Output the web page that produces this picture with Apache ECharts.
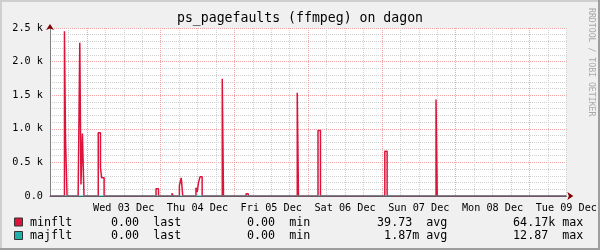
<!DOCTYPE html>
<html>
<head>
<meta charset="utf-8">
<style>html,body{margin:0;padding:0;background:#f0f0f0;}#c{width:600px;height:250px;}</style>
<script src="https://cdn.jsdelivr.net/npm/echarts@6/dist/echarts.min.js"></script>
</head>
<body>
<div id="c"></div>
<script>
// ---- data (hours relative to Wed 03 Dec 00:00; value holds until next point) ----
const minfltHours = [-12, -7.3, -6.95, -6.45, -2.83, -2.31, -1.92, -1.45, -0.94, 3.7, 4.42, 4.81, 5.6, 22.5, 23.3, 27.7, 28.1, 30.1, 30.7, 31.2, 35.5, 35.9, 36.3, 36.8, 37.5, 44.05, 44.45, 51.8, 52.5, 68.45, 68.85, 75.2, 76.0, 96.94, 97.69, 113.6, 114.0, 124.3, 124.7, 156];
const minfltValues = [0, 2450, 840, 0, 71, 2280, 171, 930, 0, 940, 420, 270, 0, 107, 0, 42, 0, 156, 270, 0, 122, 62, 196, 285, 0, 1744, 0, 33, 0, 1536, 0, 975, 0, 667, 0, 1436, 0, 18, 0, 0];
const majfltHours = [-12, 124.3, 124.35, 156];
const majfltValues = [0, 12.87, 0, 0];
const dayLabels = ['Wed 03 Dec', 'Thu 04 Dec', 'Fri 05 Dec', 'Sat 06 Dec', 'Sun 07 Dec', 'Mon 08 Dec', 'Tue 09 Dec'];
const yTickLabels = ['0.0', '0.5 k', '1.0 k', '1.5 k', '2.0 k', '2.5 k'];
const seriesNames = ['minflt', 'majflt'];
const seriesColors = ['#DC143C', '#20B2AA'];
const lastVals = ['0.00', '0.00'];
const minVals = ['0.00', '0.00'];
const avgVals = ['39.73', '1.87m'];
const maxVals = ['64.17k', '12.87'];

const FONT = "'DejaVu Sans Mono', monospace";
const pairs = (xs, ys) => xs.map((x, i) => [x, ys[i]]);
const sfx = s => /[0-9]$/.test(s) ? s + ' ' : s;

const chart = echarts.init(document.getElementById('c'), null, {renderer: 'canvas'});

const graphics = [
  {type: 'rect', shape: {x: 0, y: 0, width: 600, height: 250}, style: {fill: '#f0f0f0'}, z: -10, silent: true},
  {type: 'rect', shape: {x: 0, y: 0, width: 600, height: 2}, style: {fill: '#cfcfcf'}, z: -9, silent: true},
  {type: 'rect', shape: {x: 0, y: 0, width: 2, height: 250}, style: {fill: '#cfcfcf'}, z: -9, silent: true},
  {type: 'rect', shape: {x: 0, y: 248, width: 600, height: 2}, style: {fill: '#9e9e9e'}, z: -9, silent: true},
  {type: 'rect', shape: {x: 598, y: 0, width: 2, height: 250}, style: {fill: '#9e9e9e'}, z: -9, silent: true},
  {type: 'text', x: 591, y: 8, rotation: -Math.PI / 2, silent: true,
   style: {text: 'RRDTOOL / TOBI OETIKER', fill: '#a8a8a8', font: '8.2px ' + FONT, textAlign: 'left', textVerticalAlign: 'middle'}}
];
const rowY = [222.5, 236];
seriesNames.forEach((name, i) => {
  const y = rowY[i];
  graphics.push({type: 'rect', shape: {x: 14.5, y: y - 4.5, width: 8, height: 8}, style: {fill: seriesColors[i], stroke: '#333', lineWidth: 1}, silent: true});
  const t = (x, text, align) => graphics.push({type: 'text', x: x, y: y, silent: true,
    style: {text: text, fill: '#000', font: '11.7px ' + FONT, textAlign: align || 'left', textVerticalAlign: 'middle'}});
  t(30, name);
  t(111, lastVals[i] + '  last');
  t(247, minVals[i] + '  min');
  t(419.3, sfx(avgVals[i]), 'right');
  t(426.3, 'avg');
  t(555.3, sfx(maxVals[i]), 'right');
  t(562.3, 'max');
});

const option = {
  animation: false,
  backgroundColor: '#f0f0f0',
  title: {text: 'ps_pagefaults (ffmpeg) on dagon', left: 'center', top: 12, padding: 0,
    textStyle: {fontFamily: FONT, fontSize: 13.2, fontWeight: 'normal', color: '#000'}},
  grid: {left: 50, right: 33, top: 28, bottom: 54, show: true, backgroundColor: '#ffffff', borderWidth: 0},
  xAxis: [
    {type: 'value', min: -12, max: 156, interval: 6,
     axisLine: {show: true, onZero: false, lineStyle: {color: '#2b645e', width: 1}},
     axisTick: {show: false}, axisLabel: {show: false},
     splitLine: {show: true, lineStyle: {color: ['#cfcfcf', '#cfcfcf', '#f2a2a2', '#cfcfcf'], type: [1, 1], width: 1}}},
    {type: 'value', min: -12, max: 156, interval: 24, position: 'bottom',
     axisLine: {show: true, onZero: false, symbol: ['none', 'arrow'], symbolSize: [6, 6], symbolOffset: [0, 7], lineStyle: {color: '#7f0000', width: 0}},
     axisTick: {show: false}, splitLine: {show: false},
     axisLabel: {show: true, margin: 7, fontFamily: FONT, fontSize: 10.2, color: '#000',
       formatter: v => { const k = Math.round((v - 12) / 24); return (k >= 0 && k < dayLabels.length) ? dayLabels[k] : ''; }}}
  ],
  yAxis: [
    {type: 'value', min: 0, max: 2500, interval: 100,
     axisLine: {show: true, onZero: false, lineStyle: {color: '#808080'}}, axisTick: {show: false}, axisLabel: {show: false},
     splitLine: {show: true, lineStyle: {color: '#cfcfcf', type: [1, 1], width: 1}}},
    {type: 'value', min: 0, max: 2500, interval: 500, position: 'left',
     axisLine: {show: true, onZero: false, symbol: ['none', 'arrow'], symbolSize: [6, 6], symbolOffset: [0, 4], lineStyle: {color: '#7f0000', width: 0}},
     axisTick: {show: false},
     axisLabel: {show: true, margin: 7, fontFamily: FONT, fontSize: 10.2, color: '#000',
       formatter: v => yTickLabels[Math.round(v / 500)]},
     splitLine: {show: true, lineStyle: {color: '#f2a2a2', type: [1, 1], width: 1}}}
  ],
  series: [
    {name: seriesNames[0], type: 'line', step: 'end', xAxisIndex: 0, yAxisIndex: 0, data: pairs(minfltHours, minfltValues),
     showSymbol: false, symbol: 'none', z: 3, lineStyle: {color: seriesColors[0], width: 1.5}, itemStyle: {color: seriesColors[0]}},
    {name: seriesNames[1], type: 'line', step: 'end', xAxisIndex: 0, yAxisIndex: 0, data: pairs(majfltHours, majfltValues),
     showSymbol: false, symbol: 'none', z: 4, lineStyle: {color: seriesColors[1], width: 1}, itemStyle: {color: seriesColors[1]}}
  ],
  graphic: graphics
};
chart.setOption(option);
</script>
</body>
</html>
